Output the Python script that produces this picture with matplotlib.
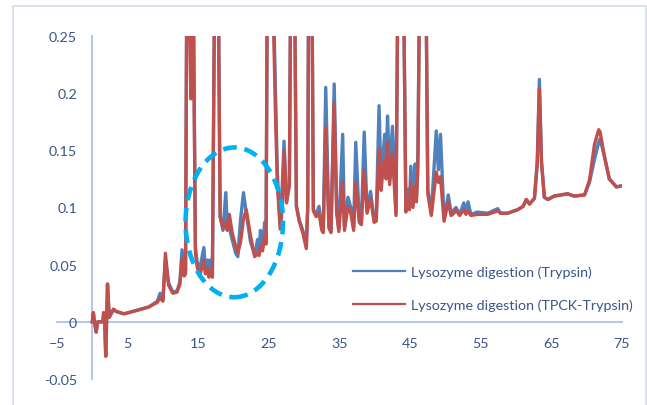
import matplotlib
matplotlib.use('Agg')
import matplotlib.pyplot as plt
from matplotlib.patches import Ellipse, Rectangle
from matplotlib.ticker import FuncFormatter
import numpy as np

plt.rcParams['font.family'] = 'Lato'
plt.rcParams['font.size'] = 10.3

# ---------------------------------------------------------------------------------------------------------------------
# chromatogram: retention time (min) and absorbance
# (the tall peaks run off the top of the plot, 0.40 is only a stand-in for "off scale")
time = [0.0, 0.15, 0.3, 0.55, 0.75, 1.5, 1.6, 1.75, 1.9, 2.15, 2.4, 3.0, 3.4, 4.5, 6.0, 8.0,
        9.2, 9.6, 10.0, 10.35, 10.8, 11.4, 12.0, 12.4, 12.7, 13.0, 13.2, 13.45, 13.95, 14.15, 14.6,
        14.85, 15.2, 15.8, 16.0, 16.3, 16.5, 16.7, 17.0, 17.45, 17.7, 18.1, 18.5, 18.9, 19.1,
        19.4, 19.8, 20.3, 20.6, 21.0, 21.4, 21.8, 22.4, 23.0, 23.4, 23.6, 23.8, 24.1, 24.4,
        24.6, 24.85, 25.2, 25.9, 26.2, 26.6, 26.9, 27.15, 27.5, 27.9, 28.2, 28.5, 28.9, 29.3,
        29.8, 30.3, 30.5, 30.7, 31.0, 31.3, 31.7, 32.1, 32.5, 32.7, 33.05, 33.5, 33.8, 34.25,
        34.6, 34.9, 35.45, 35.7, 36.2, 36.6, 37.0, 37.3, 37.8, 38.1, 38.5, 38.9, 39.4, 39.9,
        40.2, 40.6, 40.9, 41.1, 41.4, 41.6, 41.8, 42.1, 42.5, 43.0, 43.4, 43.9, 44.4, 44.7,
        44.9, 45.1, 45.4, 45.7, 45.9, 46.1, 46.5, 47.1, 47.5, 48.0, 48.7, 49.0, 49.3, 49.8,
        50.4, 50.8, 51.2, 51.5, 52.0, 52.6, 52.9, 53.2, 53.6, 54.5, 56.0, 57.4, 57.8, 58.8,
        60.2, 61.0, 61.45, 61.9, 62.6, 63.0, 63.3, 63.6, 64.0, 64.5, 65.4, 67.3, 68.2, 69.7,
        70.4, 71.1, 71.7, 71.9, 72.5, 73.2, 74.2, 75.0]

trypsin = [0.0, 0.008, 0.0, -0.009, 0.0, 0.0, 0.008, 0.0, -0.030, 0.033, 0.004, 0.011, 0.009,
           0.007, 0.0095, 0.013, 0.018, 0.025, 0.019, 0.054, 0.034, 0.026, 0.027, 0.035, 0.063,
           0.043, 0.045, 0.40, 0.32, 0.40, 0.065, 0.052, 0.046, 0.065, 0.046, 0.054, 0.040,
           0.054, 0.040, 0.40, 0.40, 0.092, 0.080, 0.113, 0.085, 0.082, 0.072, 0.060, 0.057,
           0.090, 0.113, 0.095, 0.070, 0.058, 0.072, 0.060, 0.080, 0.065, 0.087, 0.070, 0.40,
           0.40, 0.212, 0.130, 0.085, 0.120, 0.158, 0.105, 0.120, 0.40, 0.40, 0.101, 0.089,
           0.080, 0.066, 0.100, 0.40, 0.40, 0.098, 0.094, 0.101, 0.081, 0.080, 0.205, 0.085,
           0.081, 0.208, 0.100, 0.081, 0.164, 0.083, 0.109, 0.100, 0.083, 0.157, 0.089, 0.088,
           0.166, 0.097, 0.114, 0.089, 0.090, 0.189, 0.120, 0.140, 0.164, 0.135, 0.180, 0.130,
           0.171, 0.095, 0.40, 0.40, 0.098, 0.116, 0.100, 0.136, 0.105, 0.138, 0.110, 0.148,
           0.40, 0.40, 0.116, 0.095, 0.167, 0.133, 0.164, 0.090, 0.111, 0.095, 0.098, 0.100,
           0.094, 0.104, 0.095, 0.105, 0.094, 0.096, 0.095, 0.099, 0.095, 0.095, 0.098, 0.101,
           0.107, 0.103, 0.108, 0.140, 0.212, 0.140, 0.109, 0.107, 0.110, 0.112, 0.110, 0.111,
           0.122, 0.142, 0.157, 0.160, 0.145, 0.125, 0.118, 0.119]

tpck_trypsin = [0.0, 0.008, 0.0, -0.009, 0.0, 0.0, 0.008, 0.0, -0.030, 0.033, 0.004, 0.011, 0.009,
                0.007, 0.0095, 0.013, 0.017, 0.021, 0.018, 0.060, 0.032, 0.025, 0.026, 0.033, 0.055,
                0.040, 0.042, 0.40, 0.195, 0.40, 0.060, 0.048, 0.040, 0.054, 0.042, 0.047, 0.039,
                0.045, 0.039, 0.40, 0.40, 0.092, 0.082, 0.087, 0.080, 0.094, 0.078, 0.066, 0.060,
                0.070, 0.090, 0.098, 0.075, 0.057, 0.060, 0.058, 0.066, 0.062, 0.075, 0.068, 0.40,
                0.40, 0.190, 0.120, 0.081, 0.100, 0.150, 0.104, 0.120, 0.40, 0.40, 0.101, 0.088,
                0.078, 0.064, 0.100, 0.40, 0.40, 0.097, 0.092, 0.095, 0.080, 0.078, 0.170, 0.082,
                0.078, 0.192, 0.095, 0.079, 0.123, 0.080, 0.101, 0.095, 0.080, 0.122, 0.087, 0.085,
                0.133, 0.095, 0.108, 0.087, 0.088, 0.151, 0.115, 0.130, 0.142, 0.125, 0.157, 0.120,
                0.148, 0.093, 0.40, 0.40, 0.096, 0.105, 0.098, 0.122, 0.100, 0.118, 0.105, 0.135,
                0.40, 0.40, 0.112, 0.093, 0.131, 0.122, 0.127, 0.088, 0.105, 0.093, 0.095, 0.098,
                0.093, 0.098, 0.094, 0.097, 0.093, 0.094, 0.094, 0.097, 0.095, 0.095, 0.098, 0.101,
                0.107, 0.103, 0.108, 0.138, 0.204, 0.140, 0.109, 0.107, 0.110, 0.112, 0.110, 0.111,
                0.124, 0.155, 0.168, 0.166, 0.145, 0.125, 0.118, 0.119]

x_ticks = [-5, 5, 15, 25, 35, 45, 55, 65, 75]
y_ticks = [-0.05, 0, 0.05, 0.1, 0.15, 0.2, 0.25]
labels = ['Lysozyme digestion (Trypsin)', 'Lysozyme digestion (TPCK-Trypsin)']

# ---------------------------------------------------------------------------------------------------------------------
text_color = '#3A5588'
axis_color = '#B4C7E7'

fig = plt.figure(figsize=(6.47, 4.06), dpi=100)
ax = fig.add_axes([57 / 647, 26 / 406, 565 / 647, 343 / 406])

ax.plot(time, trypsin, color='#4F81BD', lw=2.4, label=labels[0], solid_joinstyle='round')
ax.plot(time, tpck_trypsin, color='#C0504D', lw=2.4, label=labels[1], solid_joinstyle='round')

ax.set_xlim(-5, 75)
ax.set_ylim(-0.05, 0.25)
ax.set_xticks(x_ticks)
ax.set_yticks(y_ticks)
ax.yaxis.set_major_formatter(FuncFormatter(lambda v, p: '{:g}'.format(round(v, 3))))

# Excel style: axes cross at zero
ax.spines['left'].set_position(('data', 0))
ax.spines['bottom'].set_position(('data', 0))
for s in ['left', 'bottom']:
    ax.spines[s].set_color(axis_color)
    ax.spines[s].set_linewidth(1.4)
    ax.spines[s].set_zorder(0)
ax.spines['top'].set_visible(False)
ax.spines['right'].set_visible(False)
ax.tick_params(axis='both', length=0, labelcolor=text_color, labelsize=10.3)
ax.tick_params(axis='y', pad=11)
ax.tick_params(axis='x', pad=11)

# highlighted region
ax.add_patch(Ellipse((20.1, 0.087), 13.8, 0.131, fill=False, edgecolor='#00B0F0',
                     lw=3.3, linestyle=(0, (3.0, 1.7)), zorder=5))

leg = ax.legend(loc='center left', bbox_to_anchor=(353 / 647, 1 - 289.5 / 406),
                bbox_transform=fig.transFigure, frameon=False, borderpad=0,
                borderaxespad=0, handlelength=3.6, handletextpad=0.45, labelspacing=1.4,
                fontsize=10.3)
for txt in leg.get_texts():
    txt.set_color(text_color)
for ln in leg.get_lines():
    ln.set_linewidth(1.6)

# chart area border
fig.patches.append(Rectangle((13 / 647, -0.05), 633 / 647, 1.05 - 7 / 406,
                             transform=fig.transFigure, fill=False,
                             edgecolor='#D3DCE9', lw=1.2))

fig.savefig('out.png', dpi=100)
